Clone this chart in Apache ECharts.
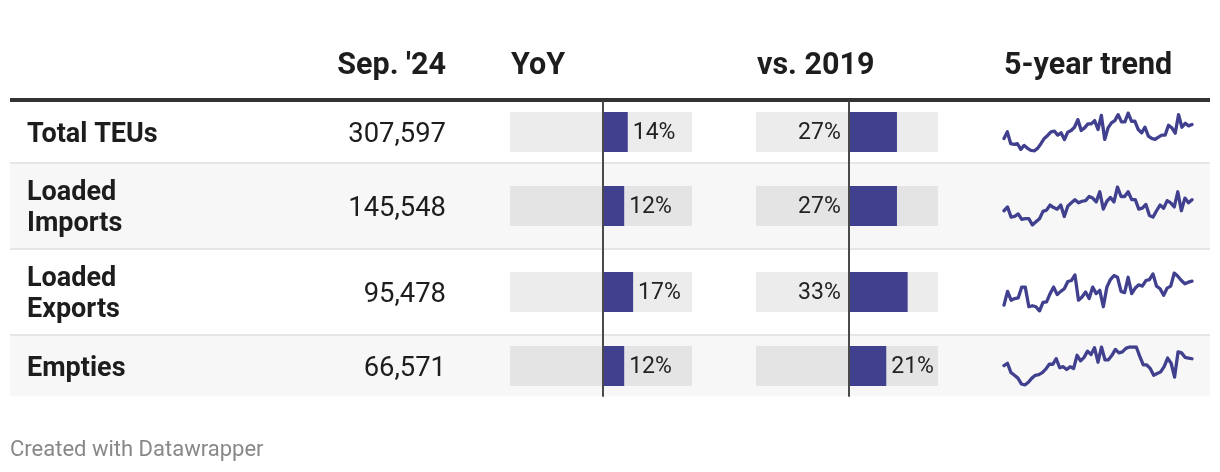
<!DOCTYPE html>
<html><head><meta charset="utf-8">
<script src="https://cdn.jsdelivr.net/npm/echarts@6/dist/echarts.min.js"></script>
<style>html,body{margin:0;padding:0;background:#fff}#c{width:1220px;height:472px}</style>
</head><body><div id="c"></div>
<script>
// ---- data ----
const categories = ['Total TEUs', 'Loaded\nImports', 'Loaded\nExports', 'Empties'];
const headers = ["Sep. '24", 'YoY', 'vs. 2019', '5-year trend'];
const sep24 = [307597, 145548, 95478, 66571];
const yoy = [14, 12, 17, 12];          // %
const vs2019 = [27, 27, 33, 21];       // %
// 5-year monthly trend, thousand TEUs (estimated from the sparklines)
const trendTotal = [257.2,281.2,238.0,235.6,238.0,217.6,232.0,221.2,214.0,211.6,221.2,238.0,257.2,268.0,281.2,283.6,269.2,277.6,253.6,280.0,286.0,298.0,325.6,286.0,295.6,310.0,310.0,322.0,289.6,341.2,253.6,295.6,313.6,322.0,343.6,317.2,317.2,349.6,319.6,319.6,289.6,277.6,298.0,265.6,257.2,253.6,262.0,269.2,269.2,305.2,295.6,276.4,343.6,298.0,312.4,302.8,307.6];
const trendImports = [124.5,131.7,112.5,113.7,118.5,108.3,109.5,109.5,97.5,103.5,109.5,123.3,125.7,135.3,130.5,127.5,135.3,113.7,133.5,139.5,145.5,139.5,142.5,143.7,151.5,148.5,141.3,160.5,127.5,142.5,149.7,141.3,169.5,151.5,151.5,160.5,145.5,145.5,127.5,129.3,136.5,115.5,112.5,124.5,135.3,129.3,143.7,139.5,131.7,160.5,124.5,148.5,139.5,145.5];
const trendExports = [66.3,83.1,72.3,74.3,75.1,88.3,88.3,64.3,65.5,64.3,59.1,69.5,70.3,80.3,88.3,79.1,83.1,86.3,95.1,96.3,103.1,72.3,76.3,82.3,74.3,88.3,80.3,84.3,64.3,88.3,97.5,102.3,100.3,83.1,81.5,100.3,80.3,87.1,91.1,89.5,96.3,97.5,104.3,89.5,86.3,78.3,87.1,89.5,105.5,101.5,96.3,92.3,94.3,95.5];
const trendEmpties = [60.6,62.7,54.6,52.2,49.8,44.7,43.8,46.2,49.8,52.2,52.8,54.6,57.6,61.8,61.8,66.6,58.8,59.7,57.3,59.7,58.2,69.6,64.8,67.8,73.2,70.2,76.2,63.6,76.8,65.7,65.7,69.6,74.7,71.7,72.6,75.6,76.8,76.8,76.8,68.7,61.2,61.2,58.2,52.2,53.7,55.2,59.7,67.2,62.7,50.7,72.6,71.7,67.8,67.2,66.6];
const trends = [trendTotal, trendImports, trendExports, trendEmpties];
const footerText = 'Created with Datawrapper';

// ---- layout / style ----
const BLUE = '#40408f';
const INK = '#1d1d1d';
const FONT = 'Roboto, "Noto Sans", sans-serif';
const TABLE_L = 10, TABLE_R = 1210;
const rows = [[102, 162], [164, 248], [250, 334], [336, 396]];
const BAR_MIN = -52, BAR_MAX = 50;
const colYoY = { left: 510, width: 182 };
const colVs = { left: 756, width: 182 };
const colTrend = { left: 1004, width: 188 };
const TEXT_DY = 3;

const chart = echarts.init(document.getElementById('c'), null, { renderer: 'canvas' });

const grids = [], xAxes = [], yAxes = [], series = [];
function addGrid(g, xa, ya) {
  grids.push(g);
  const i = grids.length - 1;
  xAxes.push(Object.assign({ gridIndex: i }, xa));
  yAxes.push(Object.assign({ gridIndex: i }, ya));
  return i;
}
const hiddenValueX = { type: 'value', min: BAR_MIN, max: BAR_MAX, axisLine: { show: false }, axisTick: { show: false }, axisLabel: { show: false }, splitLine: { show: false } };

// zero lines spanning the whole table body
[colYoY, colVs].forEach(col => {
  addGrid({ left: col.left, width: col.width, top: rows[0][0], height: rows[3][1] - rows[0][0] },
    hiddenValueX,
    { type: 'value', min: 0, max: 1, z: 10, axisLine: { show: true, onZero: true, lineStyle: { color: '#4a4a4a', width: 2 } }, axisTick: { show: false }, axisLabel: { show: false }, splitLine: { show: false } });
});

const graphics = [];
// row backgrounds
rows.forEach((r, i) => {
  if (i % 2 === 1) graphics.push({ type: 'rect', z: -10, shape: { x: TABLE_L, y: r[0], width: TABLE_R - TABLE_L, height: r[1] - r[0] }, style: { fill: '#f7f7f7' } });
  if (i > 0) graphics.push({ type: 'rect', z: -9, shape: { x: TABLE_L, y: r[0] - 2, width: TABLE_R - TABLE_L, height: 2 }, style: { fill: '#e6e6e6' } });
});
// header rule
graphics.push({ type: 'rect', z: -8, shape: { x: TABLE_L, y: 98, width: TABLE_R - TABLE_L, height: 4 }, style: { fill: '#333333' } });

// headers
const headerY = 63 + TEXT_DY;
const headerPos = [{ x: 446, a: 'right' }, { x: 511, a: 'left' }, { x: 757, a: 'left' }, { x: 1004, a: 'left' }];
headers.forEach((h, i) => {
  graphics.push({ type: 'text', x: headerPos[i].x, y: headerY, style: { text: h, font: 'bold 30.5px ' + FONT, fill: INK, textAlign: headerPos[i].a, textVerticalAlign: 'middle' } });
});

const barLabel = { show: true, formatter: '{c}%', fontSize: 23, fontFamily: FONT, color: '#222' };

rows.forEach((r, i) => {
  const c = (r[0] + r[1]) / 2;
  // row label + value
  graphics.push({ type: 'text', x: 27, y: c + TEXT_DY, style: { text: categories[i], font: 'bold 27px ' + FONT, fill: INK, textAlign: 'left', textVerticalAlign: 'middle', lineHeight: 31 } });
  graphics.push({ type: 'text', x: 446, y: c + TEXT_DY, style: { text: sep24[i].toLocaleString('en-US'), font: '27.4px ' + FONT, fill: INK, textAlign: 'right', textVerticalAlign: 'middle' } });

  // YoY bar
  let gi = addGrid({ left: colYoY.left, width: colYoY.width, top: c - 20, height: 40 }, hiddenValueX,
    { type: 'category', data: [categories[i]], show: false });
  series.push({ type: 'bar', xAxisIndex: gi, yAxisIndex: gi, data: [yoy[i]], barWidth: 40,
    itemStyle: { color: BLUE }, showBackground: true, backgroundStyle: { color: 'rgba(0,0,0,0.075)' },
    label: Object.assign({ position: 'right', distance: 5, offset: [0, 1] }, barLabel) });

  // vs 2019 bar
  gi = addGrid({ left: colVs.left, width: colVs.width, top: c - 20, height: 40 }, hiddenValueX,
    { type: 'category', data: [categories[i]], show: false });
  const outsideRight = i === rows.length - 1;
  series.push({ type: 'bar', xAxisIndex: gi, yAxisIndex: gi, data: [vs2019[i]], barWidth: 40,
    itemStyle: { color: BLUE }, showBackground: true, backgroundStyle: { color: 'rgba(0,0,0,0.075)' },
    label: Object.assign({ position: outsideRight ? 'right' : 'left', distance: outsideRight ? 5 : 8, offset: [0, 1] }, barLabel) });

  // sparkline
  gi = addGrid({ left: colTrend.left, width: colTrend.width, top: c - 19, height: 38 },
    { type: 'category', boundaryGap: false, data: trends[i].map((_, k) => k), show: false },
    { type: 'value', scale: true, min: 'dataMin', max: 'dataMax', show: false });
  series.push({ type: 'line', xAxisIndex: gi, yAxisIndex: gi, data: trends[i], symbol: 'none',
    lineStyle: { color: BLUE, width: 3.3, join: 'round', cap: 'round' } });
});

// footer
graphics.push({ type: 'text', x: 10, y: 447 + TEXT_DY, style: { text: footerText, font: '22px ' + FONT, fill: '#888888', textAlign: 'left', textVerticalAlign: 'middle' } });

chart.setOption({
  animation: false,
  backgroundColor: '#ffffff',
  grid: grids,
  xAxis: xAxes,
  yAxis: yAxes,
  series: series.map(s => Object.assign({ silent: true }, s)),
  graphic: { elements: graphics }
});
</script></body></html>
